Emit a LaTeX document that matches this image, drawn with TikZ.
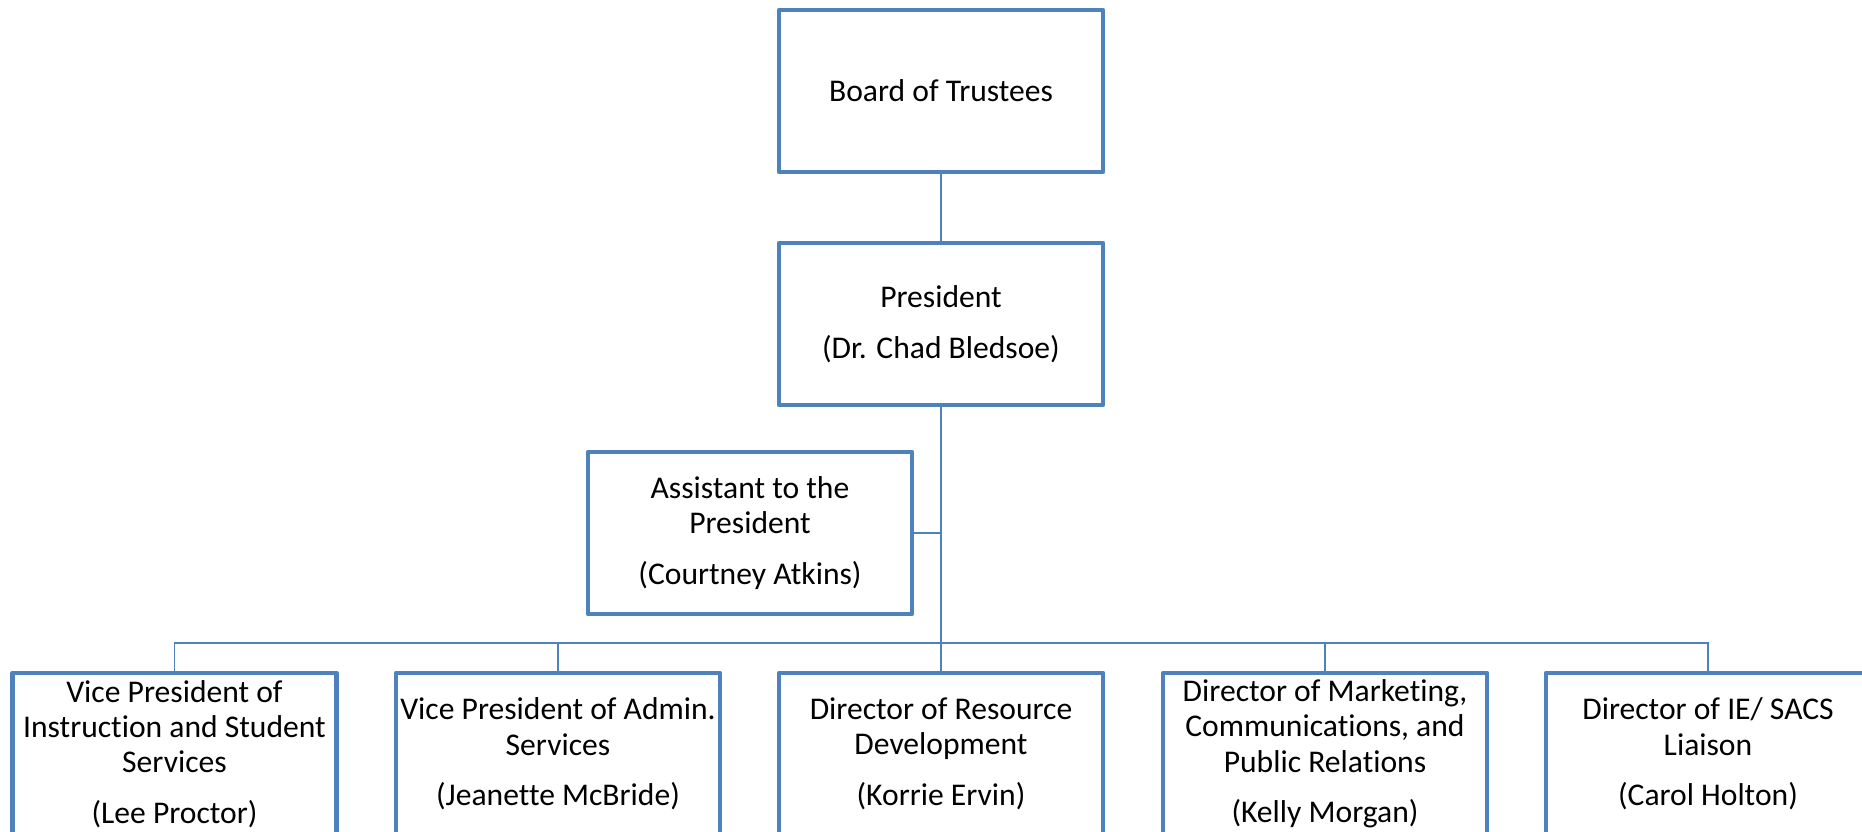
\documentclass[tikz,border=0pt]{standalone}
\usepackage{fontspec}
\setmainfont[Ligatures=NoCommon]{Carlito}
\definecolor{boxblue}{HTML}{4F81BD}
\tikzset{
  orgbox/.style={draw=boxblue, line width=4.8pt, line join=round, rectangle,
    minimum width=324pt, minimum height=162pt, inner sep=0pt, align=center,
    font=\fontsize{31.6pt}{35.3pt}\selectfont, text=black},
  link/.style={draw=boxblue, line width=1.5pt}
}
\newcommand{\gapline}{\\[15.5pt]}
\begin{document}
\begin{tikzpicture}[x=1pt, y=-1pt]
\useasboundingbox (0,0) rectangle (1862,832);
\clip (0,0) rectangle (1862,832);
\fill[white] (0,0) rectangle (1862,832);
\node[orgbox] (board) at (941,91) {Board of Trustees};
\node[orgbox] (pres) at (941,324) {President\gapline(Dr. Chad Bledsoe)};
\node[orgbox] (asst) at (750,533) {Assistant to the\\President\gapline(Courtney Atkins)};
\node[orgbox] (vp1) at (174.5,754) {Vice President of\\Instruction and Student\\Services\gapline(Lee Proctor)};
\node[orgbox] (vp2) at (558,754) {Vice President of Admin.\\Services\gapline(Jeanette McBride)};
\node[orgbox] (dir3) at (941,754) {Director of Resource\\Development\gapline(Korrie Ervin)};
\node[orgbox] (dir4) at (1325,754) {Director of Marketing,\\Communications, and\\Public Relations\gapline(Kelly Morgan)};
\node[orgbox] (dir5) at (1708,754) {Director of IE/ SACS\\Liaison\gapline(Carol Holton)};
\coordinate (bus) at (941,643);
\draw[link] (board.south) -- (pres.north);
\draw[link] (pres.south) -- (dir3.north);
\draw[link] (asst.east) -- (asst.east -| pres.south);
\draw[link] (vp1.north) |- (bus) -| (dir5.north);
\draw[link] (vp2.north) -- (vp2.north |- bus);
\draw[link] (dir4.north) -- (dir4.north |- bus);
\end{tikzpicture}
\end{document}
